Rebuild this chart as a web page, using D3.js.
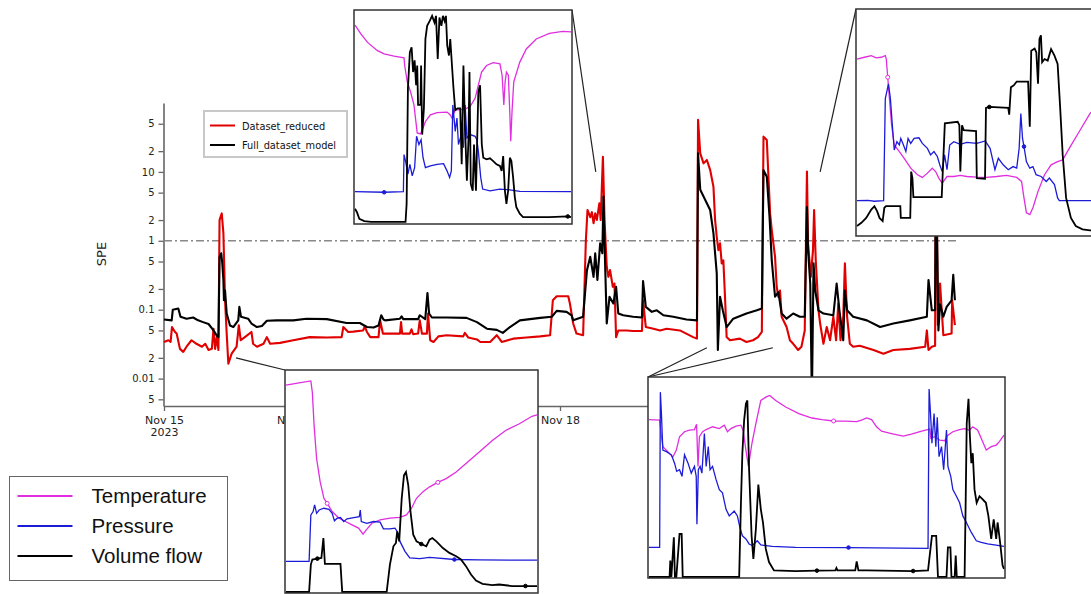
<!DOCTYPE html>
<html>
<head>
<meta charset="utf-8">
<script src="https://cdn.jsdelivr.net/npm/d3@7"></script>
<style>
  html, body { margin: 0; padding: 0; background: #fff; }
  svg { display: block; }
</style>
</head>
<body>
<svg id="chart" width="1091" height="594"></svg>
<script>
// ---------------------------------------------------------------------------
// Main SPE series: [hours since 2023-11-15 00:00, SPE]
// ---------------------------------------------------------------------------
const datasetReduced = [
  [0,0.034],[0.8,0.036],[1.2,0.034],[1.45,0.056],[2.0,0.0475],[2.3,0.045],[2.9,0.027],[3.5,0.0244],
  [4.1,0.029],[5.0,0.036],[5.9,0.032],[6.9,0.029],[7.5,0.032],[8.1,0.026],[8.7,0.027],[9.0,0.053],
  [9.3,0.027],[9.6,0.040],[9.9,0.026],[10.1,2.0],[10.5,2.5],[10.8,1.28],[11.1,0.137],[11.4,0.045],
  [11.7,0.0165],[12.3,0.023],[13.2,0.029],[13.6,0.0595],[13.95,0.036],[14.7,0.040],[15.9,0.0475],
  [16.2,0.032],[16.9,0.029],[18.1,0.032],[18.7,0.040],[19.3,0.032],[21.1,0.033],[23.5,0.036],
  [26.5,0.040],[29.6,0.0395],[32.3,0.040],[32.6,0.056],[33.5,0.0475],[34.4,0.048],[36.2,0.050],
  [36.5,0.057],[36.9,0.0475],[37.5,0.040],[39.0,0.040],[39.3,0.07],[39.8,0.045],[42.9,0.045],
  [43.1,0.066],[43.3,0.045],[44.7,0.045],[45.0,0.052],[45.3,0.044],[46.2,0.045],[46.5,0.070],
  [46.9,0.045],[47.8,0.045],[48.0,0.088],[48.4,0.036],[49.0,0.034],[49.9,0.041],[51.4,0.0426],
  [54.4,0.041],[54.7,0.046],[55.3,0.0395],[56.9,0.037],[57.5,0.034],[59.3,0.034],[60.5,0.0426],
  [61.4,0.034],[63.5,0.038],[65.9,0.0395],[68.4,0.041],[70.2,0.0426],[70.7,0.137],[71.4,0.157],
  [73.5,0.157],[73.8,0.123],[74.4,0.063],[75.0,0.045],[76.2,0.0426],[76.7,1.0],[77.0,2.8],
  [77.5,2.2],[77.8,2.6],[78.1,1.8],[78.4,2.5],[78.7,2.0],[79.15,3.5],[79.4,2.0],[79.8,16.6],
  [80.1,2.0],[80.5,0.42],[80.8,0.30],[81.1,0.375],[81.6,0.215],[81.9,0.24],[82.2,0.040],
  [82.6,0.050],[84.1,0.050],[85.3,0.049],[86.9,0.049],[87.1,0.137],[87.6,0.056],[89.0,0.053],
  [90.2,0.050],[91.4,0.053],[93.8,0.050],[96.2,0.040],[96.9,0.038],[97.1,56.8],[97.5,18.6],
  [98.1,13.3],[98.7,14.9],[99.3,10.7],[99.9,6.1],[100.2,2.0],[100.5,1.14],[100.8,0.73],
  [101.1,0.92],[101.4,0.47],[101.7,0.52],[102.0,0.154],[102.3,0.040],[102.9,0.036],[104.7,0.038],
  [105.9,0.034],[107.1,0.036],[108.0,0.040],[108.7,0.0475],[109.0,32.5],[109.6,29.1],[109.9,8.5],
  [110.2,2.5],[110.5,1.43],[110.8,0.92],[111.1,0.585],[111.4,0.215],[111.7,0.154],[112.0,0.19],
  [112.3,0.079],[113.2,0.056],[113.8,0.036],[114.4,0.032],[115.3,0.026],[115.9,0.029],[116.5,0.050],
  [116.9,10.1],[117.1,0.92],[117.6,0.30],[118.0,0.73],[118.2,2.8],[118.5,0.52],[119.0,0.098],
  [119.3,0.063],[119.9,0.032],[120.5,0.056],[121.1,0.036],[121.7,0.079],[122.2,0.036],[122.6,0.123],
  [123.0,0.036],[123.5,0.079],[123.8,0.47],[124.2,0.079],[124.7,0.032],[125.3,0.029],[126.5,0.030],
  [129.0,0.026],[130.8,0.023],[132.6,0.026],[135.6,0.027],[138.4,0.029],[138.7,0.050],[139.0,0.026],
  [139.6,0.029],[140.2,0.030],[140.3,5.0],[140.5,4.0],[140.7,0.06],[141.1,0.24],[141.4,0.1],
  [141.7,0.0426],[143.2,0.045],[143.3,0.137],[143.8,0.0595]
];

const fullDatasetModel = [
  [0,0.072],[1.4,0.070],[1.6,0.10],[2.6,0.104],[3.0,0.079],[4.1,0.074],[5.3,0.077],[6.2,0.070],
  [7.1,0.066],[8.1,0.062],[9.0,0.050],[9.6,0.042],[9.9,0.040],[10.1,0.585],[10.4,0.66],[10.6,0.47],
  [10.8,0.27],[10.9,0.137],[11.1,0.19],[11.4,0.088],[12.0,0.059],[12.6,0.056],[13.5,0.070],
  [13.7,0.11],[14.0,0.079],[15.3,0.074],[15.9,0.063],[16.9,0.056],[17.8,0.058],[18.7,0.069],
  [20.5,0.070],[23.5,0.070],[25.9,0.074],[29.6,0.073],[33.2,0.064],[35.6,0.064],[36.9,0.056],
  [38.1,0.055],[39.0,0.059],[39.5,0.083],[39.9,0.072],[40.2,0.070],[42.9,0.074],[43.2,0.080],
  [43.5,0.073],[46.2,0.073],[46.5,0.083],[47.5,0.073],[47.9,0.175],[48.2,0.088],[48.7,0.077],
  [51.4,0.077],[55.0,0.076],[56.9,0.066],[58.7,0.053],[60.5,0.051],[61.6,0.046],[62.9,0.056],
  [64.7,0.070],[68.4,0.076],[70.5,0.079],[71.4,0.096],[73.2,0.093],[74.1,0.083],[74.4,0.070],
  [76.2,0.079],[76.9,0.375],[77.5,0.585],[78.1,0.30],[78.4,0.66],[78.8,0.27],[79.3,0.92],
  [79.7,0.66],[79.9,4.4],[80.2,0.47],[80.5,0.063],[81.0,0.154],[81.7,0.123],[82.2,0.215],
  [82.6,0.088],[83.5,0.083],[85.3,0.079],[86.9,0.077],[87.1,0.26],[87.6,0.11],[88.7,0.093],
  [89.6,0.098],[90.8,0.083],[92.6,0.079],[95.0,0.072],[96.9,0.070],[97.1,18.6],[97.5,5.5],
  [98.1,4.4],[98.7,3.5],[99.3,2.8],[99.9,1.28],[100.5,0.336],[100.7,0.026],[101.1,0.154],
  [101.6,0.098],[102.3,0.056],[103.5,0.074],[105.9,0.088],[107.8,0.098],[108.7,0.104],[109.0,10.6],
  [109.6,8.5],[110.1,2.2],[110.5,0.52],[111.1,0.154],[111.7,0.18],[112.3,0.088],[113.2,0.074],
  [114.4,0.088],[115.6,0.079],[116.5,0.079],[116.9,3.1],[117.1,0.73],[117.5,0.24],[117.8,0.005],
  [118.1,0.47],[118.4,0.19],[119.0,0.098],[119.9,0.088],[121.7,0.083],[122.3,0.24],[122.8,0.098],
  [123.5,0.036],[123.8,0.19],[124.2,0.098],[125.3,0.079],[127.8,0.070],[130.2,0.056],[132.6,0.063],
  [135.6,0.070],[138.7,0.079],[139.0,0.27],[139.6,0.098],[140.2,0.098],[140.3,3.0],[140.5,2.5],
  [140.8,0.050],[141.1,0.12],[141.7,0.079],[142.3,0.11],[143.2,0.137],[143.5,0.32],[143.8,0.137]
];

const speThreshold = 1;
const seriesNames = ["Dataset_reduced", "Full_dataset_model"];

// Axis ticks
const dayTicks = ["2023-11-15","2023-11-16","2023-11-17","2023-11-18","2023-11-19","2023-11-20","2023-11-21"];
const yTickValues = [0.005, 0.01, 0.02, 0.05, 0.1, 0.2, 0.5, 1, 2, 5, 10, 20, 50];
const yTickLabels = ["5", "0.01", "2", "5", "0.1", "2", "5", "1", "2", "5", "10", "2", "5"];

// ---------------------------------------------------------------------------
// Zoomed process views: [relative time 0-100, normalised signal 0-100]
// ---------------------------------------------------------------------------
const processNames = ["Temperature", "Pressure", "Volume flow"];

// Event around Nov 18 (top)
const evA_temperature = [[0,93.3],[2.8,89.1],[5.8,85.2],[10.4,81.3],[13.5,79.8],[18.1,78.7],[22.7,77.9],[23,74.3],[24.2,66.6],[25.7,61.9],[27.3,55.7],[28,49.5],[28.8,42.5],[30.3,42],[31.5,44.8],[32.6,47.9],[34.9,51],[38,52.1],[42.6,52.3],[44.1,51],[44.9,49.5],[46.4,53.3],[51,53.7],[53.3,54.9],[55.6,58.8],[57.1,65],[58.6,71.2],[60.9,74.3],[64,75.6],[67.1,75.1],[68.1,69.7],[68.9,55.7],[69.5,66.6],[70.1,71.2],[71,69.7],[71.7,51],[72.1,38.6],[72.7,52.6],[73.5,66.6],[76.3,75.9],[79.3,82.1],[83.9,86.8],[90,89.4],[96.2,90.4],[100,90.2]];
const evA_pressure = [[0,14.8],[13.5,14.5],[22.4,14.8],[22.7,32.3],[23.4,29.2],[24.5,23],[25.4,27.7],[26.5,22.2],[27.6,26.1],[28.5,40.9],[29.6,37],[30.6,39.3],[31.5,30.8],[32.6,26.1],[34.9,26.9],[38,27.7],[41,28],[42.6,24.6],[43.8,21.5],[44.6,24.6],[45.3,55.7],[46.4,43.2],[47.2,49.5],[47.9,37],[49.2,41.7],[50.2,35.5],[51,55.7],[51.8,40.1],[53.3,41.7],[55.6,40.9],[56.4,39.3],[57.1,33.9],[58.2,21.5],[59.1,16],[62.5,15.2],[67.1,16],[71.7,15.6],[76.3,14.9],[100,14.8]];
const evA_flow = [[0,6.7],[0.9,5.1],[2,2],[4.3,0.9],[7.4,0.5],[23.4,0.5],[23.9,9],[24.5,63.5],[25.4,80.6],[26.2,82.9],[26.9,71.2],[27.6,76.7],[28.3,65],[28.8,74.3],[29.2,55.7],[30.3,55.7],[30.6,74.3],[31.1,41.7],[31.9,54.1],[32.6,86.8],[33.4,93],[34.6,95.3],[35.7,97.7],[36.8,94.6],[37.5,97.7],[38.3,77.4],[39.1,96.9],[40,93],[40.7,97.7],[41.5,95.3],[42.1,97.7],[42.7,83.7],[43.5,79],[44.1,86.8],[44.9,74.3],[45.6,63.5],[46.4,53.3],[47.5,54.1],[48.7,54.1],[49.4,27.7],[50.2,74.3],[51,43.2],[51.8,19.9],[52.5,38.6],[53,71.2],[53.6,18.4],[54.5,15.2],[55.1,37],[56,15.2],[57.1,61.9],[57.9,65],[58.7,37],[59.4,30.8],[60.9,30],[62.5,30.5],[64,29.2],[65.5,27.7],[67.1,26.9],[67.9,24.6],[68.6,31.6],[69.4,15.2],[70.1,9],[70.9,15.2],[71.7,30.8],[72.4,29.2],[73.2,21.5],[74,12.1],[74.7,7.5],[76.3,4.4],[77.8,2.8],[90,2.8],[98.5,3.1],[100,2.8]];

// Event around Nov 20 (top right)
const evB_temperature = [[0,78.2],[3.1,79],[5.9,79.7],[7.9,78.7],[10,79],[11.7,79.7],[12.1,78.2],[12.7,70.1],[13.4,60.6],[14.3,48.8],[15.4,40],[17.5,37.1],[19.5,34.1],[22.2,29.7],[25,26.8],[27,25.6],[29.1,27.5],[31.1,29.7],[32.5,28.2],[33.8,25.3],[35.2,23.1],[37.2,26],[40,26],[42.7,26.5],[45.4,26],[49.5,25.7],[53.6,25.6],[57.7,26],[61.8,26.5],[66,25.6],[68,23.8],[69,16.5],[70,9.9],[71.4,9.1],[72.7,12.1],[74.8,19.4],[77.5,26.8],[80.2,31.2],[82.9,32.6],[85,33.4],[87.7,38.5],[91.8,45.9],[96.3,54],[100,58.5]];
const evB_pressure = [[0,15.3],[4.5,15.4],[7.2,15],[11,15.3],[11.7,60.6],[13,67.2],[13.8,60.6],[14.6,48.8],[15.4,37.8],[16.5,41.5],[17.5,40],[18.1,42.9],[19.2,40],[20.2,37.1],[21.1,42.9],[22.2,40.7],[23.6,42.9],[25.6,43.2],[27,40.7],[29.1,38.5],[30.4,35.6],[31.8,37.1],[33.2,34.9],[34.2,31.2],[35.2,28.2],[36.2,35.6],[37.2,29],[38.3,40],[40,41.5],[42.7,40.3],[45.4,41.2],[49.5,40.7],[53,41.8],[55,38.5],[57,29],[58.4,34.1],[60.4,31.2],[62.5,29],[64.5,30.4],[66,29.7],[67,38.5],[67.7,54],[68.4,42.9],[69,39.3],[70,32.6],[71.4,29.7],[72.7,30.4],[74,26.8],[76.1,26],[78.2,23.8],[79.5,25.3],[81.6,22.4],[82.9,16.5],[83.6,15.3],[100,15.3]];
const evB_flow = [[0,4],[1.8,5.4],[3.8,7.6],[5.9,11.3],[7.2,12.8],[8.3,10.6],[9.3,7.6],[10.6,6.2],[11.3,12.1],[12,12.8],[17.9,12.8],[18.1,7.6],[22,7.6],[22.4,28.2],[22.9,25.3],[23.3,16.8],[35,16.8],[36.3,49.6],[41.6,50.3],[42.3,48.8],[42.7,28.2],[43.4,48.8],[44.1,46.6],[49.2,46.2],[49.5,25.3],[52.9,25],[53.3,56.5],[54.7,56.9],[62.5,56.5],[62.9,53.5],[63.6,65.7],[64.8,66.5],[66,68.2],[70.7,68.2],[71.4,48.1],[72,81.9],[73.4,82.9],[74.1,81.2],[74.8,67.2],[75.4,87.1],[76,88.8],[76.5,76.8],[77.5,78.2],[78.8,77.5],[80.2,82.6],[81.6,79.7],[82.9,76],[83.9,57.6],[85,35.6],[86.4,16.5],[88.4,7.6],[90.4,4],[93.2,2.5],[96.3,2.1],[100,2]];

// Event around Nov 15 (bottom left)
const evC_temperature = [[0,93.6],[4.6,94.5],[9.9,95.5],[10.5,90.3],[11.2,75.3],[12.2,60.3],[13.6,49.9],[15.1,42.4],[16.4,40.1],[18.4,36.4],[21.1,33.4],[23.7,31.9],[26.3,30.4],[28.9,28.9],[30.7,26.2],[32,28.1],[34.2,31.1],[37.5,32.6],[41.4,33.4],[45.4,33.8],[48,34.9],[50,37.9],[52,42.4],[54.6,45.4],[57.2,47.6],[60.5,49.6],[63.8,51.3],[67.8,54.3],[71.7,58.1],[77,63.3],[82.2,68.6],[87.5,73.1],[92.8,76],[98,79.5],[100,80.1]];
const evC_pressure = [[0,13.9],[9.2,13.9],[9.9,34.9],[10.8,36.4],[11.4,39.4],[12.2,35.6],[13.2,37.1],[15.1,37.9],[17.1,37.4],[18.4,35.6],[19.3,32.2],[20.4,33.4],[21.7,33.7],[23,31.9],[24.3,33.1],[27,33.7],[29.2,34.1],[29.6,37.1],[30,31.9],[32.2,31.1],[34.9,31.9],[37.5,31.6],[38.8,28.6],[41.4,28.6],[43.4,28.9],[44.3,27.4],[45.4,22.9],[47.4,18.4],[49.3,15.4],[53.3,15.1],[57.2,15.7],[67.1,14.7],[77,14.5],[100,14.4]];
const evC_flow = [[0,0],[9.2,0],[9.9,12.4],[10.5,14.7],[12.5,15.1],[14.1,15.4],[14.9,24.4],[15.5,12.7],[21.7,12.7],[22.4,0],[40.1,0],[41.4,12.4],[42.8,20.7],[43.8,22.2],[44.3,27.4],[45.1,22.9],[46.1,42.4],[47,52.8],[47.8,54.3],[48.7,48.4],[49.6,36.4],[50.7,25.9],[52,22.9],[53.9,21.7],[55.9,20.7],[57.2,23.7],[58.3,24.4],[59.9,22.9],[62.5,19.9],[65.1,17.7],[67.8,16.2],[69.7,14.7],[71.7,11.7],[73.7,7.9],[75.7,5.2],[78.3,3.7],[82.2,3.1],[84.9,3.4],[90.1,2.7],[95.4,2.7],[100,2.7]];

// Events around Nov 19 (bottom right)
const evD_temperature = [[0,79.1],[3,78.8],[3.5,70.5],[3.9,65.5],[5.3,63],[6.7,60.2],[7.7,63.8],[8.6,70.5],[10,73],[11.4,73.8],[12.8,74.1],[13.4,76.8],[13.8,55.6],[14.2,70.5],[15.1,73],[16.1,74.1],[17.9,75.5],[19.8,74.6],[21.2,76.3],[22.1,73],[23.1,74.6],[24.5,75.8],[25.9,76.3],[26.5,73.8],[27.3,63.8],[28,55.6],[29,67.2],[30.1,77.1],[31.5,88.7],[32.9,90.4],[34,91.2],[35.7,88.7],[38.5,85.4],[42.2,82.1],[45.9,79.9],[48.7,79.1],[52,78.4],[55.3,78.3],[58.5,78.1],[59.9,78.8],[61.3,79.9],[62.7,79.1],[64.1,75.5],[65.5,73.3],[68.3,72.1],[71.6,70.8],[73.9,71.8],[76.8,73.3],[79.1,74.3],[79.4,69.7],[80.5,70.5],[81.9,68.8],[83.3,68.5],[84.2,71.3],[85.6,73],[87.5,74.1],[88.9,74.6],[90.3,73.8],[91.2,75.5],[92.6,73.8],[94,68],[95,63.8],[96.4,65.5],[97.8,66.3],[98.7,68],[100,71.3]];
const evD_pressure = [[0,14.9],[3,14.9],[3.2,92.9],[3.5,82.1],[3.9,63.8],[4.9,63],[6.3,61.4],[7.2,57.2],[7.8,53.1],[8.6,53.9],[9.3,50.6],[10,61.4],[11,57.2],[11.9,52.2],[12.8,55.6],[13.3,50.6],[13.5,26.5],[13.9,53.9],[14.4,55.6],[14.9,52.2],[15.6,72.1],[16.1,55.6],[16.7,65.5],[17.2,53.9],[17.9,55.6],[18.9,48.9],[19.8,43.9],[20.7,42.3],[21.7,34],[22.6,30.7],[24,33.2],[24.9,30.7],[25.6,24.9],[26.3,20.7],[27.3,19.1],[28.2,16.6],[29.1,15.8],[30.5,18.2],[31.5,16.1],[34.7,15.4],[41.3,14.9],[56.2,14.8],[78.6,14.4],[78.9,94.5],[79.4,78.8],[79.7,67.2],[80.3,82.1],[80.8,65.5],[81.2,80.3],[81.7,60.5],[82.4,65.5],[83,53.9],[83.8,73.8],[84.2,55.6],[85,50.6],[85.6,43.9],[86.6,40.6],[87.5,37.3],[88.4,30.7],[89.4,27.4],[90.8,22.4],[92.2,18.2],[93.6,17.4],[95.4,16.6],[97.3,16.1],[100,15.4]];
const evD_flow = [[0,0],[5.8,0],[6,8.3],[6.3,0],[7,19.9],[7.3,0],[7.7,0],[8.6,21.6],[9.2,21.6],[9.5,0],[25.4,0],[25.9,37.3],[26.3,62.2],[26.8,78.8],[27.3,87.1],[27.7,88.7],[28.2,53.9],[28.9,20.7],[29.4,9.1],[30.1,24],[30.8,46.4],[31.5,34],[32.1,27.4],[32.9,14.1],[33.8,7.5],[35.2,3.3],[41.3,3],[47.3,3.2],[52.5,3.3],[52.8,4.5],[53.1,3.3],[58.1,3.3],[58.5,7.8],[59,3.3],[61.4,3.3],[74.4,3],[78.6,3.3],[79.7,20.7],[80.9,20.7],[81.4,0],[83.8,0],[84.2,14.9],[84.9,14.9],[85.2,0],[86.1,0],[86.4,10.8],[86.7,0],[88.9,0],[89.2,37.3],[89.5,77.1],[90,89.6],[90.4,70.5],[90.8,57.2],[91.2,62.2],[91.7,43.9],[92.3,37.3],[93.1,40.6],[94,39],[94.9,37.3],[95.6,30.7],[96.4,19.1],[97.1,29],[97.8,19.1],[98.2,27.4],[98.9,17.4],[99.6,5.8],[100,4.1]];

// Sample markers shown on the process traces (relative times of logged samples)
const marksA = { temperature: [], pressure: [13.5], flow: [98.5] };
const marksB = { temperature: [12.7], pressure: [69], flow: [54.7] };
const marksC = { temperature: [16.4, 60.5], pressure: [67.1], flow: [12.5, 53.9, 95.4] };
const marksD = { temperature: [52], pressure: [56.2], flow: [47.3, 74.4] };

// Where each zoomed view attaches on the SPE chart: [hours, SPE]
const anchorA = [[78.5, 10]];
const anchorB = [[119.3, 10]];
const anchorC = [[13.1, 0.02]];
const anchorD = [[98.7, 0.028], [110.7, 0.028]];

// ---------------------------------------------------------------------------
// Layout & styles
// ---------------------------------------------------------------------------
const colors = { reduced: "#e00000", full: "#000000", temperature: "#e02ee0", pressure: "#1c1cd8", flow: "#000000" };
const plot = { left: 164, right: 956, top: 103, bottom: 406 };
const panels = {
  A: { x: 354, y: 10, w: 218, h: 214, corner: "tr" },
  B: { x: 856, y: 9, w: 244, h: 227, corner: "tl" },
  C: { x: 285, y: 370, w: 253, h: 223, corner: "tl" },
  D: { x: 648, y: 377, w: 357, h: 201, corner: "tl" }
};

const svg = d3.select("#chart");
const t0 = new Date(2023, 10, 15, 0, 0, 0);
const toDate = h => new Date(t0.getTime() + h * 3600e3);

const x = d3.scaleTime().domain([t0, toDate(144)]).range([plot.left, plot.right]);
const y = d3.scaleLog().domain([0.004, 100]).range([plot.bottom, plot.top]);

// Axes
const yAxis = svg.append("g")
  .attr("transform", `translate(${plot.left - 0.5},0)`)
  .call(d3.axisLeft(y).tickValues(yTickValues).tickFormat((d, i) => yTickLabels[i]).tickSize(5).tickSizeOuter(0).tickPadding(4));
yAxis.select(".domain").attr("stroke", "#666").attr("stroke-width", 1.6);
yAxis.selectAll(".tick line").attr("stroke", "#666").attr("stroke-width", 1.3);
yAxis.selectAll("text").attr("font-family", "DejaVu Sans, Verdana, sans-serif").attr("font-size", 10).attr("fill", "#222");

const xAxis = svg.append("g")
  .attr("transform", `translate(0,${plot.bottom})`)
  .call(d3.axisBottom(x).tickValues(dayTicks.map(s => { const p = s.split("-"); return new Date(+p[0], +p[1] - 1, +p[2]); }))
    .tickFormat(d3.timeFormat("%b %d")).tickSize(5).tickSizeOuter(0).tickPadding(5));
xAxis.select(".domain").attr("stroke", "#666").attr("stroke-width", 1.6);
xAxis.selectAll(".tick line").attr("stroke", "#666").attr("stroke-width", 1.3);
xAxis.selectAll("text").attr("font-family", "DejaVu Sans, Verdana, sans-serif").attr("font-size", 11).attr("fill", "#222");
xAxis.selectAll(".tick").filter((d, i) => i === 0).select("text")
  .append("tspan").attr("x", 0).attr("dy", "1.15em").text("2023");

svg.append("text")
  .attr("transform", "translate(106,254) rotate(-90)")
  .attr("text-anchor", "middle")
  .attr("font-family", "DejaVu Sans, Verdana, sans-serif").attr("font-size", 13).attr("fill", "#222")
  .text("SPE");

// Threshold
svg.append("line")
  .attr("x1", plot.left).attr("x2", plot.right + 1)
  .attr("y1", y(speThreshold)).attr("y2", y(speThreshold))
  .attr("stroke", "#888").attr("stroke-width", 1.5).attr("stroke-dasharray", "8,3,2,3");

// SPE lines
const speLine = d3.line().x(d => x(toDate(d[0]))).y(d => y(d[1]));
svg.append("path").datum(datasetReduced).attr("d", speLine)
  .attr("fill", "none").attr("stroke", colors.reduced).attr("stroke-width", 2.1).attr("stroke-linejoin", "round");
svg.append("path").datum(fullDatasetModel).attr("d", speLine)
  .attr("fill", "none").attr("stroke", colors.full).attr("stroke-width", 2.1).attr("stroke-linejoin", "round");

// SPE legend
const lg = svg.append("g").attr("transform", "translate(204,111)");
lg.append("rect").attr("width", 143).attr("height", 46).attr("fill", "#fff").attr("stroke", "#c8c8c8").attr("stroke-width", 2);
[[colors.reduced, seriesNames[0]], [colors.full, seriesNames[1]]].forEach(([c, name], i) => {
  const yy = 14.5 + i * 19.5;
  lg.append("line").attr("x1", 6).attr("x2", 31).attr("y1", yy).attr("y2", yy).attr("stroke", c).attr("stroke-width", 2);
  lg.append("text").attr("x", 38).attr("y", yy + 4)
    .attr("font-family", "DejaVu Sans, Verdana, sans-serif").attr("font-size", 9.8).attr("fill", "#111").text(name);
});

// Connector lines from zoomed views to the SPE chart
function corner(p) {
  return p.corner === "tr" ? [p.x + p.w, p.y] : [p.x, p.y];
}
[[panels.A, anchorA], [panels.B, anchorB], [panels.C, anchorC], [panels.D, anchorD]].forEach(([p, anchors]) => {
  const [cx, cy] = corner(p);
  anchors.forEach(a => {
    svg.append("line").attr("x1", cx).attr("y1", cy).attr("x2", x(toDate(a[0]))).attr("y2", y(a[1]))
      .attr("stroke", "#222").attr("stroke-width", 1.2);
  });
});

// Zoomed process views
function drawPanel(id, p, temperature, pressure, flow, marks) {
  const g = svg.append("g");
  g.append("clipPath").attr("id", "clip" + id)
    .append("rect").attr("x", p.x).attr("y", p.y).attr("width", p.w).attr("height", p.h);
  g.append("rect").attr("x", p.x).attr("y", p.y).attr("width", p.w).attr("height", p.h).attr("fill", "#fff");
  const px = d3.scaleLinear().domain([0, 100]).range([p.x + 1, p.x + p.w - 1]);
  const py = d3.scaleLinear().domain([0, 100]).range([p.y + p.h - 1, p.y + 1]);
  const line = d3.line().x(d => px(d[0])).y(d => py(d[1]));
  const inner = g.append("g").attr("clip-path", `url(#clip${id})`);
  const traces = [
    ["temperature", temperature, colors.temperature, 1.3, true],
    ["pressure", pressure, colors.pressure, 1.3, false],
    ["flow", flow, colors.flow, 1.8, false]
  ];
  traces.forEach(([key, data, color, width]) => {
    inner.append("path").datum(data).attr("d", line).attr("fill", "none").attr("stroke", color).attr("stroke-width", width);
  });
  traces.forEach(([key, data, color, width, hollow]) => {
    const pts = data.filter(d => marks[key].includes(d[0]));
    inner.selectAll(null).data(pts).enter().append("circle")
      .attr("cx", d => px(d[0])).attr("cy", d => py(d[1])).attr("r", hollow ? 2 : 1.8)
      .attr("fill", hollow ? "#fff" : color).attr("stroke", color).attr("stroke-width", 1);
  });
  g.append("rect").attr("x", p.x).attr("y", p.y).attr("width", p.w).attr("height", p.h)
    .attr("fill", "none").attr("stroke", "#333").attr("stroke-width", 1.5);
}
drawPanel("A", panels.A, evA_temperature, evA_pressure, evA_flow, marksA);
drawPanel("B", panels.B, evB_temperature, evB_pressure, evB_flow, marksB);
drawPanel("C", panels.C, evC_temperature, evC_pressure, evC_flow, marksC);
drawPanel("D", panels.D, evD_temperature, evD_pressure, evD_flow, marksD);

// Process legend
const pl = svg.append("g").attr("transform", "translate(9.5,476.5)");
pl.append("rect").attr("width", 218).attr("height", 104).attr("fill", "#fff").attr("stroke", "#666").attr("stroke-width", 1);
[colors.temperature, colors.pressure, colors.flow].forEach((c, i) => {
  const yy = 19.5 + i * 30;
  pl.append("line").attr("x1", 8).attr("x2", 63).attr("y1", yy).attr("y2", yy).attr("stroke", c).attr("stroke-width", 2.2);
  pl.append("text").attr("x", 82).attr("y", yy + 7)
    .attr("font-family", "Liberation Sans, Arial, sans-serif").attr("font-size", 20.5).attr("fill", "#111").text(processNames[i]);
});
</script>
</body>
</html>
